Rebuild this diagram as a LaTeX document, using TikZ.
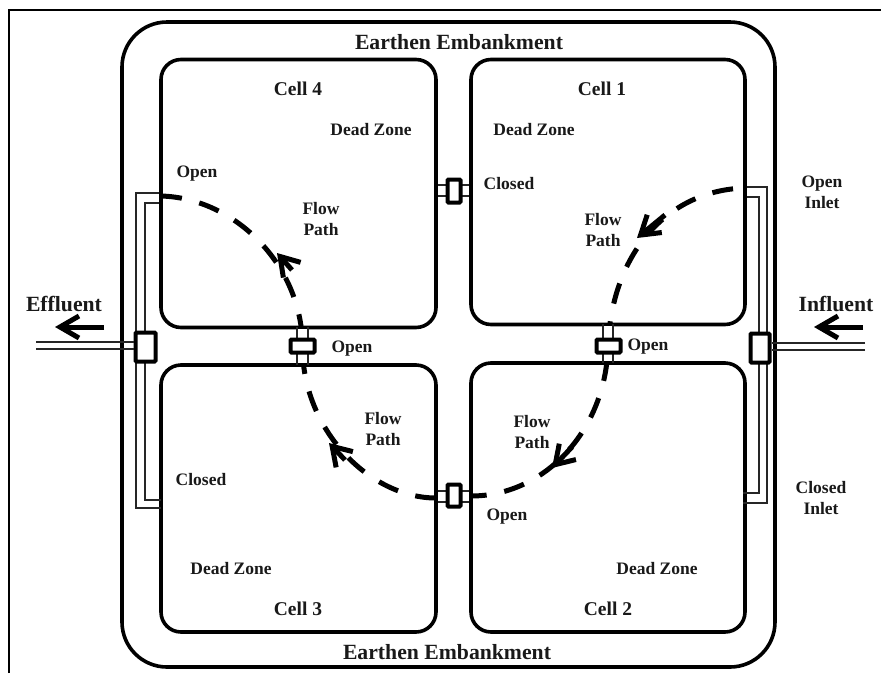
\documentclass[tikz,border=0pt]{standalone}
\usepackage{fontspec}
\setmainfont{Liberation Serif}
\usepackage{tikz}
\usetikzlibrary{arrows.meta}

\tikzset{
    wallbox/.style={draw, line width=3.6pt, rounded corners=20pt, inner sep=0pt},
    valve/.style={draw, fill=white, line width=4pt, rounded corners=1pt, inner sep=0pt},
    pipe/.style={draw=black!85, line width=2pt},
    flowpath/.style={line width=5pt, dash pattern=on 21pt off 18pt},
    flowtip/.style={line width=5pt, -{Straight Barb[length=18pt,width=23pt]}},
    bigarrow/.style={line width=5pt, -{Straight Barb[length=19pt,width=22pt]}},
    lbl/.style={font=\bfseries\fontsize{17.5}{21}\selectfont, align=center, text=black!90, inner sep=0pt},
    celllbl/.style={font=\bfseries\fontsize{19.5}{20}\selectfont, text=black!90, inner sep=0pt},
    biglbl/.style={font=\bfseries\fontsize{21.7}{24}\selectfont, text=black!90, inner sep=0pt}
}

\begin{document}
\begin{tikzpicture}[x=1pt,y=-1pt]
    \useasboundingbox (0,0) rectangle (881,673);
    % outer frame, open at the bottom and right
    \draw[line width=2pt] (9,673) -- (9,10) -- (881,10);
    % embankment and cells
    \node[wallbox, rounded corners=45pt, minimum width=653pt, minimum height=645pt] (bank) at (448.5,344.5) {};
    \node[wallbox, minimum width=275pt, minimum height=268pt] (cellD) at (298.5,193.5) {};
    \node[wallbox, minimum width=274pt, minimum height=265pt] (cellA) at (608,192) {};
    \node[wallbox, minimum width=275pt, minimum height=267pt] (cellC) at (298.5,498.5) {};
    \node[wallbox, minimum width=274pt, minimum height=269pt] (cellB) at (608,497.5) {};

    % flow path
    \coordinate (inletA) at (745,188);
    \coordinate (outD) at (161,196);
    \coordinate (endB) at (471,496);
    \coordinate (endC) at (436,498);
    \draw[flowpath, dash phase=27pt] (inletA) .. controls (670,190) and (612,250) .. (608,346)
        .. controls (606,430) and (545,496) .. (endB);
    \draw[flowpath] (outD) .. controls (235,198) and (302,265) .. (302.5,346)
        .. controls (302,430) and (370,498) .. (endC);
    \draw[flowtip] (665,215) -- (637,238);
    \draw[flowtip] (572,447) -- (552,468);
    \draw[flowtip] (345,460) -- (329,443);
    \draw[flowtip] (292,270) -- (277,253);

    % manifolds
    \draw[pipe] (cellD.west |- 0,193) -- (136,193) -- (136,508) -- (161,508);
    \draw[pipe] (cellD.west |- 0,203) -- (145,203) -- (145,500) -- (161,500);
    \draw[pipe] (cellA.east |- 0,187) -- (767,187) -- (767,503) -- (743,503);
    \draw[pipe] (cellA.east |- 0,197) -- (759,197) -- (759,493) -- (743,493);

    % pipes between the cells
    \foreach \y in {185,196} \draw[pipe] (cellD.east |- 0,\y) -- (cellA.west |- 0,\y);
    \foreach \y in {491,502} \draw[pipe] (cellC.east |- 0,\y) -- (cellB.west |- 0,\y);
    \fill[white] (438,186) rectangle (469,195);
    \fill[white] (438,492) rectangle (469,501);
    \fill[white] (298,329) rectangle (307,363);
    \fill[white] (604,326) rectangle (612,361);
    \foreach \x in {297,308} \draw[pipe] (\x,327) -- (\x,365);
    \foreach \x in {603,613} \draw[pipe] (\x,324) -- (\x,363);

    % valves
    \node[valve, minimum width=13pt, minimum height=23pt] (valveAD) at (454,191) {};
    \node[valve, minimum width=13pt, minimum height=22pt] (valveBC) at (454,495.5) {};
    \node[valve, minimum width=24pt, minimum height=13pt] (valveCD) at (302.5,346) {};
    \node[valve, minimum width=24pt, minimum height=13pt] (valveAB) at (608.5,346) {};
    \node[valve, minimum width=20pt, minimum height=29pt] (valveOut) at (145.5,347) {};
    \node[valve, minimum width=19pt, minimum height=29pt] (valveIn) at (760,348) {};

    % effluent and influent
    \coordinate (pipeOut) at (36,0);
    \coordinate (pipeIn) at (865,0);
    \foreach \y in {342,349} \draw[pipe] (pipeOut |- 0,\y) -- (valveOut.west |- 0,\y);
    \foreach \y in {343,350} \draw[pipe] (pipeIn |- 0,\y) -- (valveIn.east |- 0,\y);
    \coordinate (arrOutA) at (104,327);
    \coordinate (arrOutB) at (55,327);
    \coordinate (arrInA) at (863,327);
    \coordinate (arrInB) at (814,327);
    \draw[bigarrow] (arrOutA) -- (arrOutB);
    \draw[bigarrow] (arrInA) -- (arrInB);

    % labels
    \node[biglbl] (bankTop) at (459,42) {Earthen Embankment};
    \node[biglbl] (bankBot) at (447,652) {Earthen Embankment};
    \node[celllbl] (lblD) at (298,89) {Cell 4};
    \node[celllbl] (lblA) at (602,89) {Cell 1};
    \node[celllbl] (lblC) at (298,609) {Cell 3};
    \node[celllbl] (lblB) at (608,609) {Cell 2};
    \node[biglbl] (lblOut) at (64,304) {Effluent};
    \node[biglbl] (lblIn) at (836,304) {Influent};
    \node[lbl] (deadD) at (371,130) {Dead Zone};
    \node[lbl] (deadA) at (534,130) {Dead Zone};
    \node[lbl] (deadC) at (231,569) {Dead Zone};
    \node[lbl] (deadB) at (657,569) {Dead Zone};
    \node[lbl] (openD) at (197,174) {Open};
    \node[lbl] (closedAD) at (509,184) {Closed};
    \node[lbl] (openCD) at (352,349) {Open};
    \node[lbl] (openAB) at (648,347) {Open};
    \node[lbl] (openBC) at (507,517) {Open};
    \node[lbl] (closedC) at (201,480) {Closed};
    \node[lbl] (inletTop) at (822,192) {Open\\Inlet};
    \node[lbl] (inletBot) at (821,498) {Closed\\Inlet};
    \node[lbl] (flowD) at (321,219) {Flow\\Path};
    \node[lbl] (flowA) at (603,230) {Flow\\Path};
    \node[lbl] (flowC) at (383,429) {Flow\\Path};
    \node[lbl] (flowB) at (532,432) {Flow\\Path};
\end{tikzpicture}
\end{document}
